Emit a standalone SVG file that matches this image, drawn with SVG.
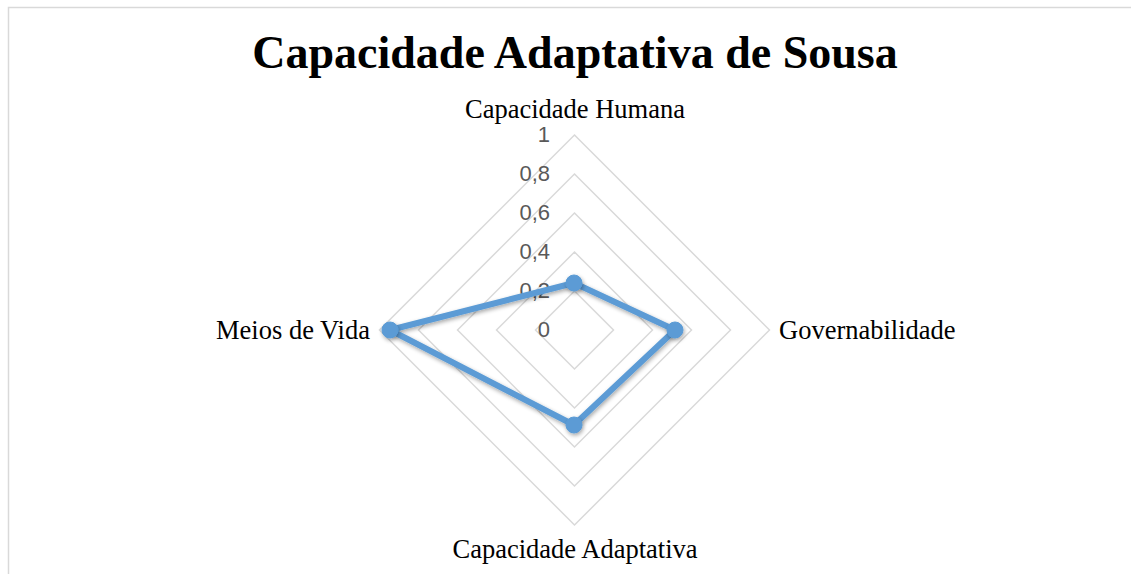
<svg xmlns="http://www.w3.org/2000/svg" width="1131" height="574" viewBox="0 0 1131 574">
<style>
.frame{stroke:#d9d9d9;stroke-width:1.5;fill:none}
.grid{stroke:#d9d9d9;stroke-width:1.5;fill:none}
.tick{font-family:"Liberation Sans",Arial,sans-serif;font-size:22px;fill:#595959;text-anchor:end}
.cat{font-family:"Liberation Serif","Times New Roman",serif;font-size:26.5px;fill:#000}
.title{font-family:"Liberation Serif","Times New Roman",serif;font-size:46px;font-weight:bold;fill:#000;text-anchor:middle}
.series{stroke:#5b9bd5;stroke-width:6;fill:none;stroke-linejoin:round}
.mk{fill:#5b9bd5;stroke:#5b9bd5;stroke-width:1}
</style>
<defs>
<filter id="sh" x="-20%" y="-20%" width="140%" height="140%">
<feGaussianBlur in="SourceAlpha" stdDeviation="2"/>
<feOffset dx="1" dy="2" result="b"/>
<feComponentTransfer><feFuncA type="linear" slope="0.35"/></feComponentTransfer>
<feMerge><feMergeNode/><feMergeNode in="SourceGraphic"/></feMerge>
</filter>
</defs>
<rect width="1131" height="574" fill="#fff"/>
<path class="frame" d="M8.5,574 V7.5 H1131"/>
<text class="title" x="575" y="68">Capacidade Adaptativa de Sousa</text>
<g id="grid">
<polygon class="grid" points="574.5,291 613.5,330 574.5,369 535.5,330"/>
<polygon class="grid" points="574.5,252 652.5,330 574.5,408 496.5,330"/>
<polygon class="grid" points="574.5,213 691.5,330 574.5,447 457.5,330"/>
<polygon class="grid" points="574.5,174 730.5,330 574.5,486 418.5,330"/>
<polygon class="grid" points="574.5,135 769.5,330 574.5,525 379.5,330"/>
</g>
<g id="ticks">
<text class="tick" x="550" y="142">1</text>
<text class="tick" x="550" y="181">0,8</text>
<text class="tick" x="550" y="220">0,6</text>
<text class="tick" x="550" y="259">0,4</text>
<text class="tick" x="550" y="298">0,2</text>
<text class="tick" x="550" y="337">0</text>
</g>
<g id="labels">
<text id="lbl-humana" class="cat" x="575" y="118" text-anchor="middle">Capacidade Humana</text>
<text id="lbl-gov" class="cat" x="779" y="339">Governabilidade</text>
<text id="lbl-meios" class="cat" x="370" y="339" text-anchor="end">Meios de Vida</text>
<text id="lbl-adapt" class="cat" x="575" y="558" text-anchor="middle">Capacidade Adaptativa</text>
</g>
<g id="connectors" filter="url(#sh)">
<polygon class="series" points="574,283 675,330 574,425 390,330"/>
</g>
<g id="points" filter="url(#sh)">
<circle id="p-humana" class="mk" cx="574" cy="283" r="8"/>
<circle id="p-gov" class="mk" cx="675" cy="330" r="8"/>
<circle id="p-adapt" class="mk" cx="574" cy="425" r="8"/>
<circle id="p-meios" class="mk" cx="390" cy="330" r="8"/>
</g>
</svg>
